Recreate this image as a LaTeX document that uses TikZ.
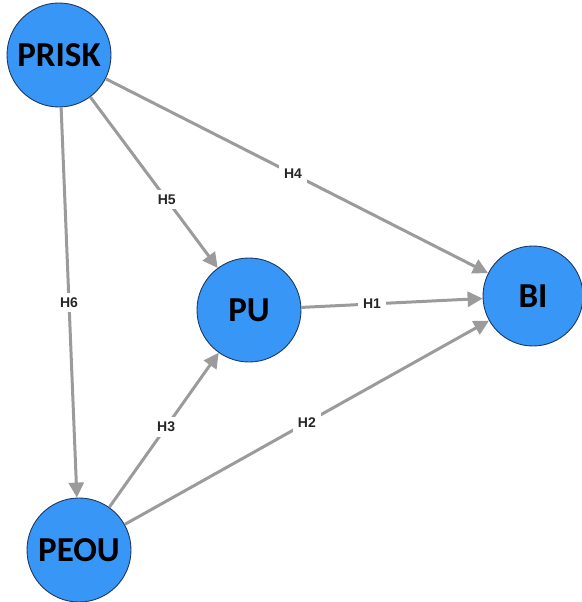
\documentclass[tikz,border=0pt]{standalone}
\usepackage{fontspec}
\setmainfont{Liberation Sans}
\newfontfamily\nodefont{Carlito}
\usetikzlibrary{arrows.meta}
\definecolor{nodeblue}{RGB}{56,150,247}
\definecolor{nodeedge}{RGB}{30,55,95}
\definecolor{edgegray}{RGB}{155,155,155}
\tikzset{
  construct/.style={circle, fill=nodeblue, draw=nodeedge, line width=0.9pt, inner sep=0pt,
    font=\nodefont\bfseries\fontsize{35}{35}\selectfont, text=black},
  path/.style={draw=edgegray, line width=3pt, -{Triangle[length=15pt,width=15pt]}},
  hyp/.style={fill=white, inner sep=5pt, font=\bfseries\fontsize{14}{14}\selectfont, text=black!85}
}
\begin{document}
\begin{tikzpicture}[x=1pt,y=-1pt]
\useasboundingbox (0,0) rectangle (581,602);
\node[construct, minimum size=104pt] (prisk) at (59,55) {PRISK};
\node[construct, minimum size=104pt] (pu) at (249,310) {PU};
\node[construct, minimum size=100pt] (bi) at (533,296) {BI};
\node[construct, minimum size=104pt] (peou) at (79,550) {PEOU};
\draw[path] (prisk) -- node[hyp, pos=0.49] (h4) {H4} (bi);
\draw[path] (prisk) -- node[hyp, pos=0.60] (h5) {H5} (pu);
\draw[path] (prisk) -- node[hyp, pos=0.50] (h6) {H6} (peou);
\draw[path] (pu) -- node[hyp, pos=0.39] (h1) {H1} (bi);
\draw[path] (peou) -- node[hyp, pos=0.52] (h3) {H3} (pu);
\draw[path] (peou) -- node[hyp, pos=0.50] (h2) {H2} (bi);
\end{tikzpicture}
\end{document}
